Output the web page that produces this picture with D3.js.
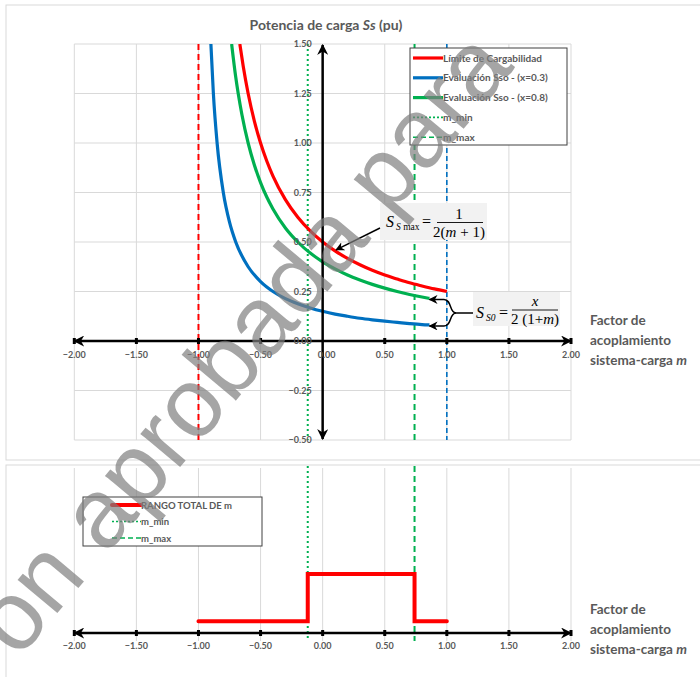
<!DOCTYPE html>
<html>
<head>
<meta charset="utf-8">
<script src="https://cdn.jsdelivr.net/npm/d3@7"></script>
<style>
  body { margin: 0; background: #fff; overflow: hidden; }
  svg { display: block; }
  text { font-family: Lato, "Open Sans", sans-serif; }
  text.serif { font-family: "Liberation Serif", "DejaVu Serif", serif; }
  text.wm { font-family: "Liberation Sans", Arial, sans-serif; }
</style>
</head>
<body>
<div id="chart"></div>
<script>
// ---- data ----
var xTicks = [-2, -1.5, -1, -0.5, 0, 0.5, 1, 1.5, 2];
var yTicks = [1.5, 1.25, 1.0, 0.75, 0.5, 0.25, 0, -0.25, -0.5];

// Limite de Cargabilidad
var mRed = [-0.667, -0.64, -0.6, -0.55, -0.5, -0.45, -0.4, -0.3, -0.2, -0.1, 0, 0.1, 0.2, 0.3, 0.4, 0.5, 0.6, 0.7, 0.8, 0.9, 1.0];
var sRed = [1.50, 1.389, 1.25, 1.111, 1.0, 0.909, 0.833, 0.714, 0.625, 0.556, 0.5, 0.455, 0.417, 0.385, 0.357, 0.333, 0.313, 0.294, 0.278, 0.263, 0.25];
// Evaluacion Sso (x=0.3)
var mBlue = [-0.9, -0.88, -0.85, -0.8, -0.75, -0.7, -0.6, -0.5, -0.4, -0.3, -0.2, -0.1, 0, 0.1, 0.2, 0.3, 0.4, 0.5, 0.6, 0.7, 0.8, 0.86];
var sBlue = [1.5, 1.25, 1.0, 0.75, 0.6, 0.5, 0.375, 0.3, 0.25, 0.214, 0.188, 0.167, 0.15, 0.136, 0.125, 0.115, 0.107, 0.1, 0.094, 0.088, 0.083, 0.081];
// Evaluacion Sso (x=0.8)
var mGreen = [-0.733, -0.7, -0.68, -0.65, -0.6, -0.55, -0.5, -0.45, -0.4, -0.3, -0.2, -0.1, 0, 0.1, 0.2, 0.3, 0.4, 0.5, 0.6, 0.7, 0.8, 0.86];
var sGreen = [1.5, 1.333, 1.25, 1.143, 1.0, 0.889, 0.8, 0.727, 0.667, 0.571, 0.5, 0.444, 0.4, 0.364, 0.333, 0.308, 0.286, 0.267, 0.25, 0.235, 0.222, 0.215];

var mLimit = -1.0, mMin = -0.12, mMax = 0.74, mEnd = 1.0;

// rango total de m (second chart)
var mRange = [-1.0, -0.12, -0.12, 0.74, 0.74, 1.0];
var vRange = [0.2, 0.2, 1.0, 1.0, 0.2, 0.2];

var RED = "#ff0000", BLUE = "#0070c0", GREEN = "#00b050", GRAY = "#595959", GRID = "#d9d9d9";

var svg = d3.select("#chart").append("svg").attr("width", 700).attr("height", 677);

var defs = svg.append("defs");
function marker(id, size) {
  defs.append("marker").attr("id", id)
    .attr("viewBox", "0 0 10 10").attr("refX", 9).attr("refY", 5)
    .attr("markerWidth", size).attr("markerHeight", size)
    .attr("markerUnits", "userSpaceOnUse")
    .attr("orient", "auto-start-reverse")
    .append("path").attr("d", "M0,0 L10,5 L0,10 L3,5 Z").attr("fill", "#000");
}
marker("arr", 11);
marker("arrSmall", 9);
defs.append("clipPath").attr("id", "clip1").append("rect")
  .attr("x", 74).attr("y", 44).attr("width", 497).attr("height", 396);

// chart borders
svg.append("rect").attr("x", 6).attr("y", 5).attr("width", 720).attr("height", 455)
  .attr("fill", "none").attr("stroke", GRID).attr("stroke-width", 1);
svg.append("rect").attr("x", 6).attr("y", 465).attr("width", 720).attr("height", 240)
  .attr("fill", "none").attr("stroke", GRID).attr("stroke-width", 1);

// ================= chart 1 =================
var x = d3.scaleLinear().domain([-2, 2]).range([74.3, 571]);
var y = d3.scaleLinear().domain([-0.5, 1.5]).range([440, 44]);

var g1 = svg.append("g");
g1.selectAll("line.gx").data(xTicks).enter().append("line")
  .attr("x1", d => x(d)).attr("x2", d => x(d)).attr("y1", y(1.5)).attr("y2", y(-0.5))
  .attr("stroke", GRID);
g1.selectAll("line.gy").data(yTicks).enter().append("line")
  .attr("x1", x(-2)).attr("x2", x(2)).attr("y1", d => y(d)).attr("y2", d => y(d))
  .attr("stroke", GRID);

// vertical reference lines
var vlines = [
  { m: mLimit, c: RED, dash: "6,4", w: 2 },
  { m: mMin, c: GREEN, dash: "2,3", w: 2 },
  { m: mMax, c: GREEN, dash: "6,4", w: 2 },
  { m: mEnd, c: BLUE, dash: "5,3", w: 1.6 }
];
g1.selectAll("line.v").data(vlines).enter().append("line")
  .attr("x1", d => x(d.m)).attr("x2", d => x(d.m)).attr("y1", y(1.5)).attr("y2", y(-0.5))
  .attr("stroke", d => d.c).attr("stroke-width", d => d.w).attr("stroke-dasharray", d => d.dash);

// curves
var line = d3.line().x(d => x(d[0])).y(d => y(d[1])).curve(d3.curveMonotoneX);
var curves = [
  { m: mBlue, s: sBlue, c: BLUE },
  { m: mGreen, s: sGreen, c: GREEN },
  { m: mRed, s: sRed, c: RED }
];
curves.forEach(function (cv) {
  g1.append("path").datum(d3.zip(cv.m, cv.s))
    .attr("d", line).attr("fill", "none").attr("stroke", cv.c).attr("stroke-width", 3.2)
    .attr("clip-path", "url(#clip1)");
});

// axes with arrows
g1.append("line").attr("x1", x(0)).attr("x2", x(-2)).attr("y1", y(0)).attr("y2", y(0))
  .attr("stroke", "#000").attr("stroke-width", 2.5).attr("marker-end", "url(#arr)");
g1.append("line").attr("x1", x(0)).attr("x2", x(2)).attr("y1", y(0)).attr("y2", y(0))
  .attr("stroke", "#000").attr("stroke-width", 2.5).attr("marker-end", "url(#arr)");
g1.selectAll("rect.tk").data(xTicks.filter(d => d !== 0)).enter().append("rect")
  .attr("x", d => x(d) - 1.5).attr("y", y(0) - 3).attr("width", 3).attr("height", 6).attr("fill", "#000");
g1.append("line").attr("x1", x(0)).attr("x2", x(0)).attr("y1", y(0.5)).attr("y2", y(1.5) + 1)
  .attr("stroke", "#000").attr("stroke-width", 2.5).attr("marker-end", "url(#arr)");
g1.append("line").attr("x1", x(0)).attr("x2", x(0)).attr("y1", y(0.5)).attr("y2", y(-0.5) - 1)
  .attr("stroke", "#000").attr("stroke-width", 2.5).attr("marker-end", "url(#arr)");

// tick labels
g1.selectAll("text.xl").data(xTicks).enter().append("text")
  .attr("x", d => x(d) + (d === 0 ? 4 : 0)).attr("y", y(0) + 17).attr("text-anchor", "middle")
  .attr("font-size", 9).attr("font-weight", "bold").attr("fill", GRAY)
  .text(d => d3.format(".2f")(d));
g1.selectAll("text.yl").data(yTicks).enter().append("text")
  .attr("x", x(0) - 11).attr("y", d => y(d) + 3).attr("text-anchor", "end")
  .attr("font-size", 9).attr("font-weight", "bold").attr("fill", GRAY)
  .text(d => d3.format(".2f")(d));

// title
var title = svg.append("text").attr("x", 326).attr("y", 30).attr("text-anchor", "middle")
  .attr("font-size", 14).attr("font-weight", "bold").attr("fill", GRAY);
title.append("tspan").text("Potencia de carga ");
title.append("tspan").attr("font-style", "italic").text("Ss");
title.append("tspan").text(" (pu)");

function axisTitle(y0) {
  var lines = ["Factor de", "acoplamiento", "sistema-carga "];
  lines.forEach(function (t, i) {
    var tx = svg.append("text").attr("x", 590).attr("y", y0 + i * 20)
      .attr("font-size", 13.5).attr("font-weight", "bold").attr("fill", GRAY).text(t);
    if (i === 2) tx.append("tspan").attr("font-style", "italic").text("m");
  });
}
axisTitle(325);

// legend chart 1
var leg1 = svg.append("g");
leg1.append("rect").attr("x", 410).attr("y", 48).attr("width", 157).attr("height", 97)
  .attr("fill", "#fff").attr("stroke", "#404040").attr("stroke-width", 1);
var legItems1 = [
  { t: "Límite de Cargabilidad", c: RED, dash: null, w: 3.2 },
  { t: "Evaluación Sso - (x=0.3)", c: BLUE, dash: null, w: 3.2 },
  { t: "Evaluación Sso - (x=0.8)", c: GREEN, dash: null, w: 3.2 },
  { t: "m_min", c: GREEN, dash: "2,2", w: 1.6 },
  { t: "m_max", c: GREEN, dash: "5,3", w: 1.6 }
];
legItems1.forEach(function (d, i) {
  var ly = 58 + i * 19.8;
  leg1.append("line").attr("x1", 413).attr("x2", 443).attr("y1", ly).attr("y2", ly)
    .attr("stroke", d.c).attr("stroke-width", d.w).attr("stroke-dasharray", d.dash);
  leg1.append("text").attr("x", 443).attr("y", ly + 3.5).attr("font-size", 10)
    .attr("font-weight", "bold").attr("fill", GRAY).text(d.t);
});

// formula 1
function st(g, cls, px, py, size, txt, italic, anchor) {
  var t = g.append("text").attr("class", cls).attr("x", px).attr("y", py).attr("font-size", size);
  if (italic) t.attr("font-style", "italic");
  if (anchor) t.attr("text-anchor", anchor);
  if (txt) t.text(txt);
  return t;
}
var f1 = svg.append("g");
f1.append("rect").attr("x", 380).attr("y", 203).attr("width", 107).attr("height", 37).attr("fill", "#f2f2f2");
st(f1, "serif", 386, 227, 16, "S", true);
var sub1 = st(f1, "serif", 396, 230, 9.5);
sub1.append("tspan").attr("font-style", "italic").text("S");
sub1.append("tspan").text(" max");
st(f1, "serif", 422, 227, 16, "=");
st(f1, "serif", 459, 219, 15, "1", false, "middle");
f1.append("line").attr("x1", 437).attr("x2", 483).attr("y1", 222.5).attr("y2", 222.5).attr("stroke", "#000").attr("stroke-width", 0.9);
var den1 = st(f1, "serif", 459, 237, 15, null, false, "middle");
den1.append("tspan").text("2(");
den1.append("tspan").attr("font-style", "italic").text("m");
den1.append("tspan").text(" + 1)");
svg.append("line").attr("x1", 380).attr("y1", 228).attr("x2", x(0.1) + 1).attr("y2", y(0.455) - 1)
  .attr("stroke", "#000").attr("stroke-width", 1.5).attr("marker-end", "url(#arrSmall)");

// formula 2
var f2 = svg.append("g");
f2.append("rect").attr("x", 473).attr("y", 292).attr("width", 87).attr("height", 34).attr("fill", "#f2f2f2");
st(f2, "serif", 476, 318, 16, "S", true);
st(f2, "serif", 486, 321, 9.5, "S0", true);
st(f2, "serif", 499, 318, 16, "=");
st(f2, "serif", 535, 306, 15, "x", true, "middle");
f2.append("line").attr("x1", 512).attr("x2", 558).attr("y1", 310).attr("y2", 310).attr("stroke", "#000").attr("stroke-width", 0.9);
var den2 = st(f2, "serif", 535, 324, 15, null, false, "middle");
den2.append("tspan").text("2  (1+");
den2.append("tspan").attr("font-style", "italic").text("m");
den2.append("tspan").text(")");
var bx = 456, byc = 313;
var yUp = y(sGreen[sGreen.length - 1]) + 1, yDn = y(sBlue[sBlue.length - 1]) + 1, xEnd = x(0.86);
svg.append("path").attr("d", "M473," + byc + " L" + bx + "," + byc + " C449," + byc + " 452," + yUp + " 444," + yUp + " L" + xEnd + "," + yUp)
  .attr("fill", "none").attr("stroke", "#000").attr("stroke-width", 1.5).attr("marker-end", "url(#arrSmall)");
svg.append("path").attr("d", "M" + bx + "," + byc + " C449," + byc + " 452," + yDn + " 444," + yDn + " L" + xEnd + "," + yDn)
  .attr("fill", "none").attr("stroke", "#000").attr("stroke-width", 1.5).attr("marker-end", "url(#arrSmall)");

// ================= chart 2 =================
var y2 = d3.scaleLinear().domain([0, 1]).range([633, 574]);
var g2 = svg.append("g");
g2.selectAll("line.gx").data(xTicks).enter().append("line")
  .attr("x1", d => x(d)).attr("x2", d => x(d)).attr("y1", 468).attr("y2", 641)
  .attr("stroke", GRID);
g2.append("line").attr("x1", x(mMin)).attr("x2", x(mMin)).attr("y1", 466).attr("y2", 641)
  .attr("stroke", GREEN).attr("stroke-width", 2).attr("stroke-dasharray", "2,3");
g2.append("line").attr("x1", x(mMax)).attr("x2", x(mMax)).attr("y1", 466).attr("y2", 641)
  .attr("stroke", GREEN).attr("stroke-width", 2).attr("stroke-dasharray", "6,4");
g2.append("path").datum(d3.zip(mRange, vRange))
  .attr("d", d3.line().x(d => x(d[0])).y(d => y2(d[1])))
  .attr("fill", "none").attr("stroke", RED).attr("stroke-width", 4).attr("stroke-linecap", "round");
g2.append("line").attr("x1", x(0)).attr("x2", x(-2)).attr("y1", y2(0)).attr("y2", y2(0))
  .attr("stroke", "#000").attr("stroke-width", 2.5).attr("marker-end", "url(#arr)");
g2.append("line").attr("x1", x(0)).attr("x2", x(2)).attr("y1", y2(0)).attr("y2", y2(0))
  .attr("stroke", "#000").attr("stroke-width", 2.5).attr("marker-end", "url(#arr)");
g2.selectAll("rect.tk").data(xTicks).enter().append("rect")
  .attr("x", d => x(d) - 1.5).attr("y", y2(0) - 3).attr("width", 3).attr("height", 6).attr("fill", "#000");
g2.selectAll("text.xl").data(xTicks).enter().append("text")
  .attr("x", d => x(d)).attr("y", y2(0) + 16).attr("text-anchor", "middle")
  .attr("font-size", 9).attr("font-weight", "bold").attr("fill", GRAY)
  .text(d => d3.format(".2f")(d));
axisTitle(614);

// legend chart 2
var leg2 = svg.append("g");
leg2.append("rect").attr("x", 83).attr("y", 497).attr("width", 179).attr("height", 49)
  .attr("fill", "#fff").attr("stroke", "#404040").attr("stroke-width", 1);
var legItems2 = [
  { t: "RANGO TOTAL DE m", c: RED, dash: null, w: 4 },
  { t: "m_min", c: GREEN, dash: "2,2", w: 1.6 },
  { t: "m_max", c: GREEN, dash: "5,3", w: 1.6 }
];
legItems2.forEach(function (d, i) {
  var ly = 505 + i * 16.5;
  leg2.append("line").attr("x1", 112).attr("x2", 141).attr("y1", ly).attr("y2", ly)
    .attr("stroke", d.c).attr("stroke-width", d.w).attr("stroke-dasharray", d.dash)
    .attr("stroke-linecap", d.dash ? "butt" : "round");
  leg2.append("text").attr("x", 141).attr("y", ly + 3.5).attr("font-size", 9.5)
    .attr("font-weight", "bold").attr("fill", GRAY).text(d.t);
});

// watermark
svg.append("text").attr("class", "wm").attr("transform", "translate(18,660) rotate(-50)")
  .attr("font-size", 98)
  .attr("fill", "#7f7f7f").attr("fill-opacity", 0.7)
  .text("ón aprobada para");
</script>
</body>
</html>
